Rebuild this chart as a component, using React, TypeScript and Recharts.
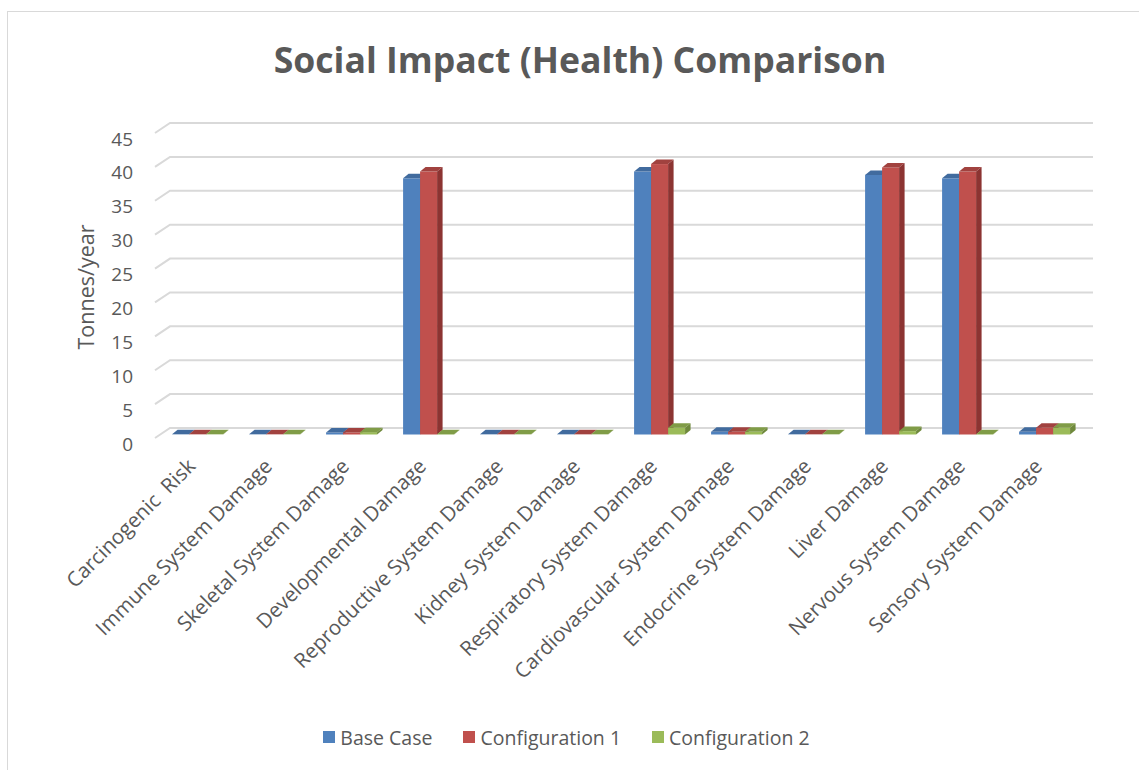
import { BarChart, Bar, XAxis, YAxis, CartesianGrid, Legend, Label } from 'recharts'

const categories = [
  'Carcinogenic  Risk',
  'Immune System Damage',
  'Skeletal System Damage',
  'Developmental Damage',
  'Reproductive System Damage',
  'Kidney System Damage',
  'Respiratory System Damage',
  'Cardiovascular System Damage',
  'Endocrine System Damage',
  'Liver Damage',
  'Nervous System Damage',
  'Sensory System Damage',
]

const baseCase = [0.02, 0.02, 0.3, 37.8, 0.02, 0.02, 38.8, 0.4, 0.02, 38.3, 37.8, 0.4]
const config1 = [0.02, 0.02, 0.3, 38.8, 0.02, 0.02, 39.9, 0.4, 0.02, 39.4, 38.8, 1.0]
const config2 = [0.02, 0.02, 0.35, 0.05, 0.02, 0.02, 1.0, 0.4, 0.02, 0.5, 0.05, 1.0]

const yTicks = [0, 5, 10, 15, 20, 25, 30, 35, 40, 45]

const series = [
  { key: 'base', name: 'Base Case', front: '#4f81bd', top: '#416b9e', side: '#385d8a' },
  { key: 'c1', name: 'Configuration 1', front: '#c0504d', top: '#a1423f', side: '#8c3432' },
  { key: 'c2', name: 'Configuration 2', front: '#9bbb59', top: '#809c47', side: '#6f893c' },
]

const data = categories.map((name, i) => ({
  name,
  base: baseCase[i],
  c1: config1[i],
  c2: config2[i],
}))

const FONT = '"Open Sans", sans-serif'
const TEXT = '#595959'
const GRID = '#d9d9d9'

// depth offset of the 3D boxes
const DX = 5.5
const DY = 4.5

function box(front: string, top: string, side: string) {
  return (props: any) => {
    const { x, y, width, height } = props
    if (x == null || width == null) return null
    const h = Math.max(height || 0, 0)
    const w = width
    return (
      <g>
        <rect x={x} y={y} width={w} height={h} fill={front} />
        <polygon
          points={`${x},${y} ${x + DX},${y - DY} ${x + w + DX},${y - DY} ${x + w},${y}`}
          fill={top}
        />
        <polygon
          points={`${x + w},${y} ${x + w + DX},${y - DY} ${x + w + DX},${y + h - DY} ${x + w},${y + h}`}
          fill={side}
        />
      </g>
    )
  }
}

// back-wall gridline with the short side-wall diagonal on the left
const gridLine = (p: any) => {
  const { x1, x2, y1, index } = p
  return (
    <polyline
      key={`g-${index}-${y1}`}
      points={`${x1 - 4},${y1 + 3.5} ${x1 + 11},${y1 - 6.5} ${x2 + 10},${y1 - 6.5}`}
      fill="none"
      stroke={GRID}
      strokeWidth={2}
    />
  )
}

const YTick = (p: any) => {
  const { y, payload } = p
  return (
    <text x={133} y={y + 9} textAnchor="end" dominantBaseline="central" fontFamily={FONT} fontSize={19} fill={TEXT}>
      {payload.value}
    </text>
  )
}

const XTick = (p: any) => {
  const { x, y, payload } = p
  const ax = x - 1
  const ay = y + 25
  return (
    <text
      x={ax}
      y={ay}
      textAnchor="end"
      transform={`rotate(-45, ${ax}, ${ay})`}
      fontFamily={FONT}
      fontSize={20.5}
      fill={TEXT}
      style={{ whiteSpace: 'pre' }}
    >
      {payload.value}
    </text>
  )
}

const LegendContent = () => (
  <div
    style={{
      display: 'flex',
      justifyContent: 'center',
      height: 40,
      position: 'relative',
      top: -2,
      paddingLeft: 50,
      fontFamily: FONT,
      fontSize: 19.5,
      color: TEXT,
    }}
  >
    {series.map((s, i) => (
      <div key={s.key} style={{ display: 'flex', alignItems: 'center', marginLeft: i ? 31 : 0, height: 18 }}>
        <span style={{ width: 12, height: 12, background: s.front, marginRight: 5, display: 'inline-block' }} />
        <span>{s.name}</span>
      </div>
    ))}
  </div>
)

export default function App() {
  return (
    <div style={{ position: 'relative', width: 1139, height: 770, overflow: 'hidden', background: '#fff' }}>
      <style>{'body{margin:0;overflow:hidden;background:#fff}'}</style>
      <div
        style={{
          position: 'absolute',
          left: 7,
          top: 11,
          width: 1200,
          height: 800,
          borderLeft: `1.5px solid ${GRID}`,
          borderTop: `1.5px solid ${GRID}`,
        }}
      />
      <div
        style={{
          position: 'absolute',
          left: 0,
          width: 1160,
          top: 35,
          textAlign: 'center',
          fontFamily: FONT,
          fontWeight: 700,
          fontSize: 35.6,
          color: TEXT,
        }}
      >
        Social Impact (Health) Comparison
      </div>
      <div style={{ position: 'absolute', left: 0, top: 0 }}>
        <BarChart
          width={1139}
          height={770}
          data={data}
          margin={{ top: 129.5, right: 56, bottom: 0, left: 0 }}
          barCategoryGap="17%"
          barGap={0}
        >
          <CartesianGrid vertical={false} horizontal={gridLine} />
          <XAxis dataKey="name" interval={0} axisLine={false} tickLine={false} height={295.5} tick={<XTick />} />
          <YAxis
            domain={[0, 45]}
            ticks={yTicks}
            width={159}
            axisLine={false}
            tickLine={false}
            tick={<YTick />}
          >
            <Label
              content={(lp: any) => {
                const vb = lp.viewBox || {}
                const cx = 85
                const cy = (vb.y || 0) + (vb.height || 0) / 2 + 5
                return (
                  <text
                    x={cx}
                    y={cy}
                    transform={`rotate(-90, ${cx}, ${cy})`}
                    textAnchor="middle"
                    dominantBaseline="central"
                    fontFamily={FONT}
                    fontSize={21.5}
                    fill={TEXT}
                  >
                    Tonnes/year
                  </text>
                )
              }}
            />
          </YAxis>
          <Legend verticalAlign="bottom" content={<LegendContent />} />
          {series.map((s) => (
            <Bar
              key={s.key}
              dataKey={s.key}
              name={s.name}
              fill={s.front}
              isAnimationActive={false}
              shape={box(s.front, s.top, s.side)}
            />
          ))}
        </BarChart>
      </div>
    </div>
  )
}
